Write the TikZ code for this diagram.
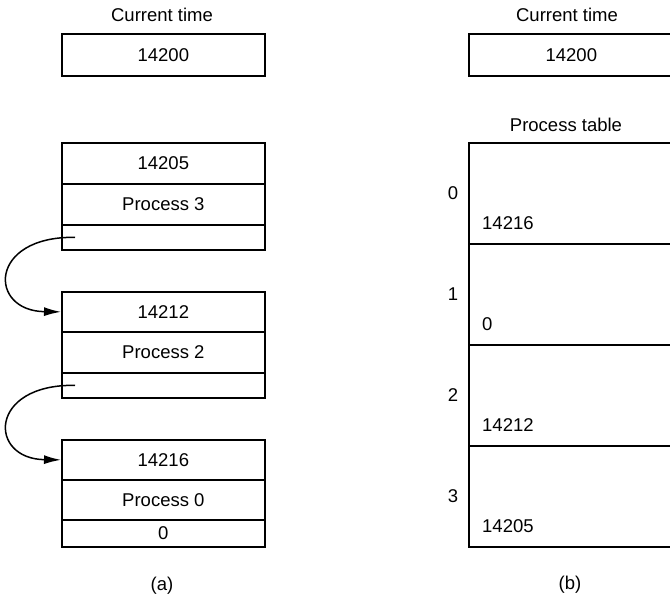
\documentclass[tikz,border=0pt]{standalone}
\usepackage{fontspec}
\setmainfont{Liberation Sans}
\usetikzlibrary{positioning,calc,arrows.meta}
\tikzset{>={Latex[length=17pt,width=9pt]}}
\tikzset{cell/.style={draw,line width=1.7pt,minimum width=203pt,minimum height=#1,inner sep=0pt,anchor=north west},
  val/.style={anchor=west,inner sep=0pt},
  idx/.style={inner sep=0pt}}
\begin{document}
\begin{tikzpicture}[x=1pt,y=-1pt,font=\fontsize{18.5}{20}\selectfont]
\useasboundingbox (0,0) rectangle (670,597);
\begin{scope}
\node (ta) at (162,15) {Current time};
\node[cell=42pt] (ca) at (61,33) {14200};
\node[cell=41pt] (v3) at (61,142) {14205};
\node[cell=41pt] (p3) at (61,183) {Process 3};
\node[cell=25pt] (n3) at (61,224) {};
\node[cell=40pt] (v2) at (61,291) {14212};
\node[cell=41pt] (p2) at (61,331) {Process 2};
\node[cell=25pt] (n2) at (61,372) {};
\node[cell=40pt] (v0) at (61,439) {14216};
\node[cell=40pt] (p0) at (61,479) {Process 0};
\node[cell=27pt] (n0) at (61,519) {0};
\coordinate (s3) at ($(n3.west)+(14,0)$);
\coordinate (s2) at ($(n2.west)+(14,0)$);
\draw[->,line width=1.5pt] (s3) .. controls (-12,236) and (-12,311) .. (v2.west);
\draw[->,line width=1.5pt] (s2) .. controls (-12,384) and (-12,459) .. (v0.west);
\node (la) at (162,586) {(a)};
\end{scope}
\begin{scope}
\node (tb) at (567,15) {Current time};
\node[cell=42pt,minimum width=205pt] (cb) at (468,33) {14200};
\node (pt) at (566,125) {Process table};
\foreach \i/\v [count=\k from 0] in {0/14216,1/0,2/14212,3/14205} {
  \node[cell=101pt,minimum width=205pt] (r\i) at (468,142+101*\k) {};
  \node[idx] (i\i) at (453,193+101*\k) {\i};
  \node[val] (e\i) at (482,223+101*\k) {\v};
}
\node (lb) at (570,585) {(b)};
\end{scope}
\end{tikzpicture}
\end{document}
